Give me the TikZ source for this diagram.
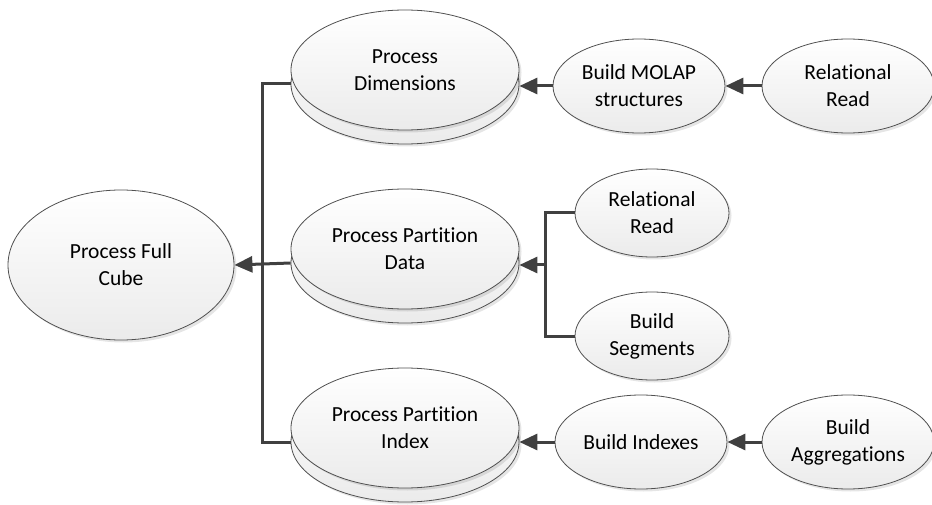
\documentclass[tikz,border=0pt]{standalone}
\usepackage{fontspec}
\setmainfont[Ligatures=NoCommon]{Carlito}
\usetikzlibrary{shapes.geometric,arrows.meta,shadows}
\definecolor{linec}{HTML}{404040}
\definecolor{edgec}{HTML}{505050}
\definecolor{shadc}{HTML}{EBEBEB}
\tikzset{
  bub/.style={ellipse, draw=edgec, line width=0.8pt, inner sep=0pt,
    top color=white, bottom color=shadc, align=center,
    font=\fontsize{21.5}{27}\selectfont, text=black,
    drop shadow={shadow xshift=2.5pt, shadow yshift=-2.5pt, fill=black, opacity=0.10}},
  big/.style={bub, minimum width=228pt, minimum height=120pt},
  small/.style={bub, minimum width=172pt, minimum height=94pt},
  mid/.style={bub, minimum width=154pt, minimum height=88pt},
  conn/.style={draw=linec, line width=3pt},
  arr/.style={conn, -{Triangle[length=18pt,width=16pt]}},
}
\begin{document}
\begin{tikzpicture}[x=1pt,y=-1pt]
\useasboundingbox (0,0) rectangle (932,505);
% Process Full Cube
\node[bub, minimum width=226pt, minimum height=150pt] (full) at (121,265) {Process Full\\Cube};
% stacked ellipses
\node[big] (dimb) at (405,84) {};
\node[big] (dim) at (405,70) {Process\\Dimensions};
\node[big] (datab) at (405,263) {};
\node[big] (data) at (405,249) {Process Partition\\Data};
\node[big] (idxb) at (405,442) {};
\node[big] (idx) at (405,428) {Process Partition\\Index};
% right side
\node[small] (molap) at (639,86) {Build MOLAP\\structures};
\node[small] (rr1) at (848,86) {Relational\\Read};
\node[mid] (rr2) at (652,213) {Relational\\Read};
\node[mid] (seg) at (652,336) {Build\\Segments};
\node[small] (bidx) at (641,442) {Build Indexes};
\node[small] (agg) at (848,442) {Build\\Aggregations};
% trunk
\coordinate (trunk) at (262,265);
\coordinate (jn) at (545,265);
\draw[conn] (dimb.west) -- (dimb.west -| trunk) -- (idxb.west -| trunk) -- (idxb.west);
\draw[arr] (datab.west) -- (full.east);
% top row
\draw[arr] (molap.west) -- (molap.west -| dimb.east);
\draw[arr] (rr1.west) -- (molap.east);
% middle
\draw[conn] (rr2.west) -- (rr2.west -| jn) -- (seg.west -| jn) -- (seg.west);
\draw[arr] (jn) -- (jn -| datab.east);
% bottom row
\draw[arr] (bidx.west) -- (bidx.west -| idxb.east);
\draw[arr] (agg.west) -- (bidx.east);
\end{tikzpicture}
\end{document}
